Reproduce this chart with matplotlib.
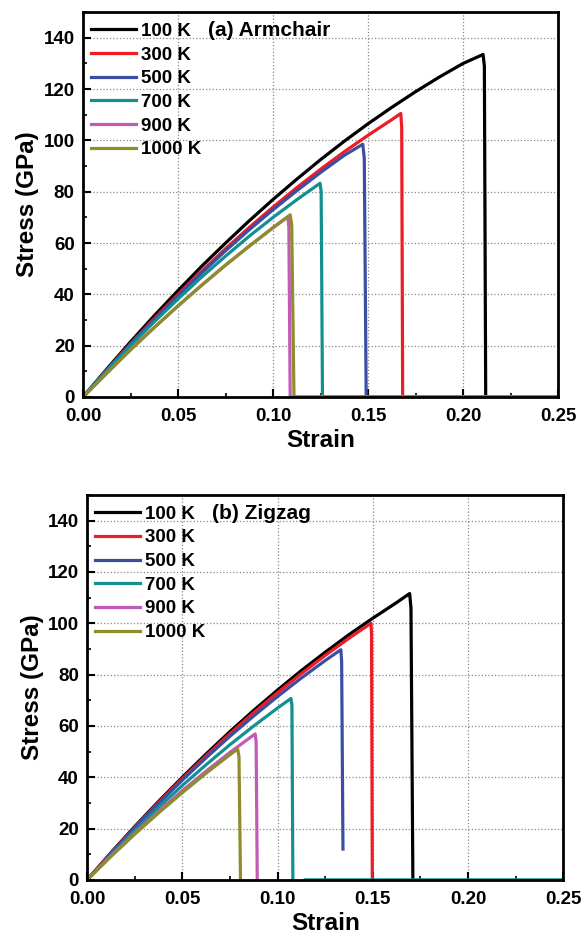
import matplotlib
matplotlib.use("Agg")
import matplotlib.pyplot as plt
from matplotlib.ticker import MultipleLocator

plt.rcParams['font.family'] = ['Liberation Sans', 'DejaVu Sans']
plt.rcParams['font.weight'] = 'bold'

labels = ["100 K", "300 K", "500 K", "700 K", "900 K", "1000 K"]
colors = ["#000000", "#ee1c24", "#3a4fa3", "#129090", "#c25bb8", "#8d8d2c"]

# common strain grid for the loading part
grid = [0, 0.0125, 0.025, 0.0375, 0.05, 0.0625, 0.075, 0.0875, 0.1, 0.1125, 0.125, 0.1375,
        0.15, 0.1625, 0.175, 0.1875, 0.2]

# (a) Armchair: loading part on the grid + peak/fracture points
arm_load = [
    [0, 10.9, 21.5, 31.7, 41.5, 51, 60, 68.7, 77, 84.9, 92.5, 99.7, 106.5, 112.9, 119, 124.7, 130],
    [0, 10.6, 20.8, 30.6, 40, 49.1, 57.8, 66.1, 74, 81.6, 88.75, 95.6, 102, 108.1],
    [0, 10.4, 20.5, 30.2, 39.5, 48.4, 57, 65.2, 73, 80.4, 87.5, 94.2],
    [0, 10.2, 20, 29.3, 38.2, 46.8, 54.9, 62.7, 70, 76.9],
    [0, 9.3, 18.4, 27.1, 35.5, 43.6, 51.4, 58.8, 66],
    [0, 9.3, 18.4, 27.1, 35.5, 43.6, 51.4, 58.8, 66],
]
arm_tail_strain = [
    [0.2105, 0.2112, 0.2119, 0.25],
    [0.1672, 0.1677, 0.1682, 0.25],
    [0.1472, 0.148, 0.149, 0.25],
    [0.1247, 0.1253, 0.126, 0.25],
    [0.1078, 0.1083, 0.109, 0.25],
    [0.109, 0.1098, 0.111, 0.25],
]
arm_tail_stress = [
    [133.5, 129, 0, 0],
    [110.5, 105, 0, 0],
    [98.5, 93, 0, 0],
    [83.3, 80, 0, 0],
    [70.2, 66, 0, 0],
    [71, 67, 0, 0],
]

# (b) Zigzag (None = gap in the line)
zig_load = [
    [0, 10.6, 20.8, 30.6, 40, 49.1, 57.8, 66.1, 74, 81.6, 88.75, 95.6, 102, 108.1],
    [0, 10.4, 20.5, 30.2, 39.5, 48.4, 57, 65.2, 73, 80.4, 87.5, 94.2],
    [0, 10.3, 20.2, 29.7, 38.9, 47.6, 56, 63.9, 71.5, 78.7, 85.5],
    [0, 9.8, 19.2, 28.2, 36.8, 44.9, 52.7, 60, 67],
    [0, 9.3, 18.2, 26.7, 34.8, 42.4, 49.7],
    [0, 9.1, 17.8, 26.1, 34, 41.6, 48.8],
]
zig_tail_strain = [
    [0.1693, 0.1700, 0.171],
    [0.149, 0.1493, 0.1497],
    [0.1332, 0.1336, 0.1343],
    [0.107, 0.1075, 0.108, None, 0.1145, 0.25],
    [0.0882, 0.0887, 0.0893],
    [0.079, 0.0797, 0.0805],
]
zig_tail_stress = [
    [111.6, 106, 0],
    [100, 96, 0],
    [89.7, 85, 12],
    [70.7, 68, 0, None, 0, 0],
    [56.9, 54, 0],
    [51, 48, 0],
]


def to_xy(load, tail_x, tail_y):
    xs = grid[:len(load)] + tail_x
    ys = load + tail_y
    xs = [v if v is not None else float('nan') for v in xs]
    ys = [v if v is not None else float('nan') for v in ys]
    return xs, ys


def style_axes(ax, title):
    ax.set_xlim(0, 0.25)
    ax.set_ylim(0, 150)
    ax.xaxis.set_major_locator(MultipleLocator(0.05))
    ax.xaxis.set_minor_locator(MultipleLocator(0.025))
    ax.yaxis.set_minor_locator(MultipleLocator(10))
    ax.set_yticks([0, 20, 40, 60, 80, 100, 120, 140])
    ax.xaxis.set_major_formatter(plt.FuncFormatter(lambda v, p: "%.2f" % v))
    ax.grid(True, which='major', color='#888888', linestyle=':', linewidth=0.9)
    ax.tick_params(which='major', direction='in', length=6, width=1.5, labelsize=13.5)
    ax.tick_params(axis='x', which='major', pad=8)
    ax.tick_params(axis='y', which='major', pad=6)
    ax.tick_params(which='minor', direction='in', length=3, width=1.2)
    ax.tick_params(top=False, right=False, which='both')
    for s in ax.spines.values():
        s.set_linewidth(2)
    ax.set_xlabel("Strain", fontsize=17.5, fontweight='bold', labelpad=3)
    ax.set_ylabel("Stress (GPa)", fontsize=17.5, fontweight='bold', labelpad=3)
    ax.legend(loc='upper left', bbox_to_anchor=(0.0, 0.992), frameon=False,
              fontsize=13.5, handlelength=2.4, handletextpad=0.3, labelspacing=0.35,
              borderaxespad=0.15, borderpad=0.25)
    ax.text(0.262, 0.953, title, transform=ax.transAxes, fontsize=15,
            fontweight='bold', va='center', ha='left')


fig = plt.figure(figsize=(5.85, 9.34), dpi=100)
ax1 = fig.add_axes([0.142, 0.575, 0.812, 0.412])
ax2 = fig.add_axes([0.149, 0.058, 0.814, 0.412])

for i in range(len(labels)):
    xs, ys = to_xy(arm_load[i], arm_tail_strain[i], arm_tail_stress[i])
    ax1.plot(xs, ys, color=colors[i], lw=2.3, label=labels[i], solid_joinstyle='round')
    xs, ys = to_xy(zig_load[i], zig_tail_strain[i], zig_tail_stress[i])
    ax2.plot(xs, ys, color=colors[i], lw=2.3, label=labels[i], solid_joinstyle='round')

style_axes(ax1, "(a) Armchair")
style_axes(ax2, "(b) Zigzag")

fig.savefig("out.png", dpi=100)
